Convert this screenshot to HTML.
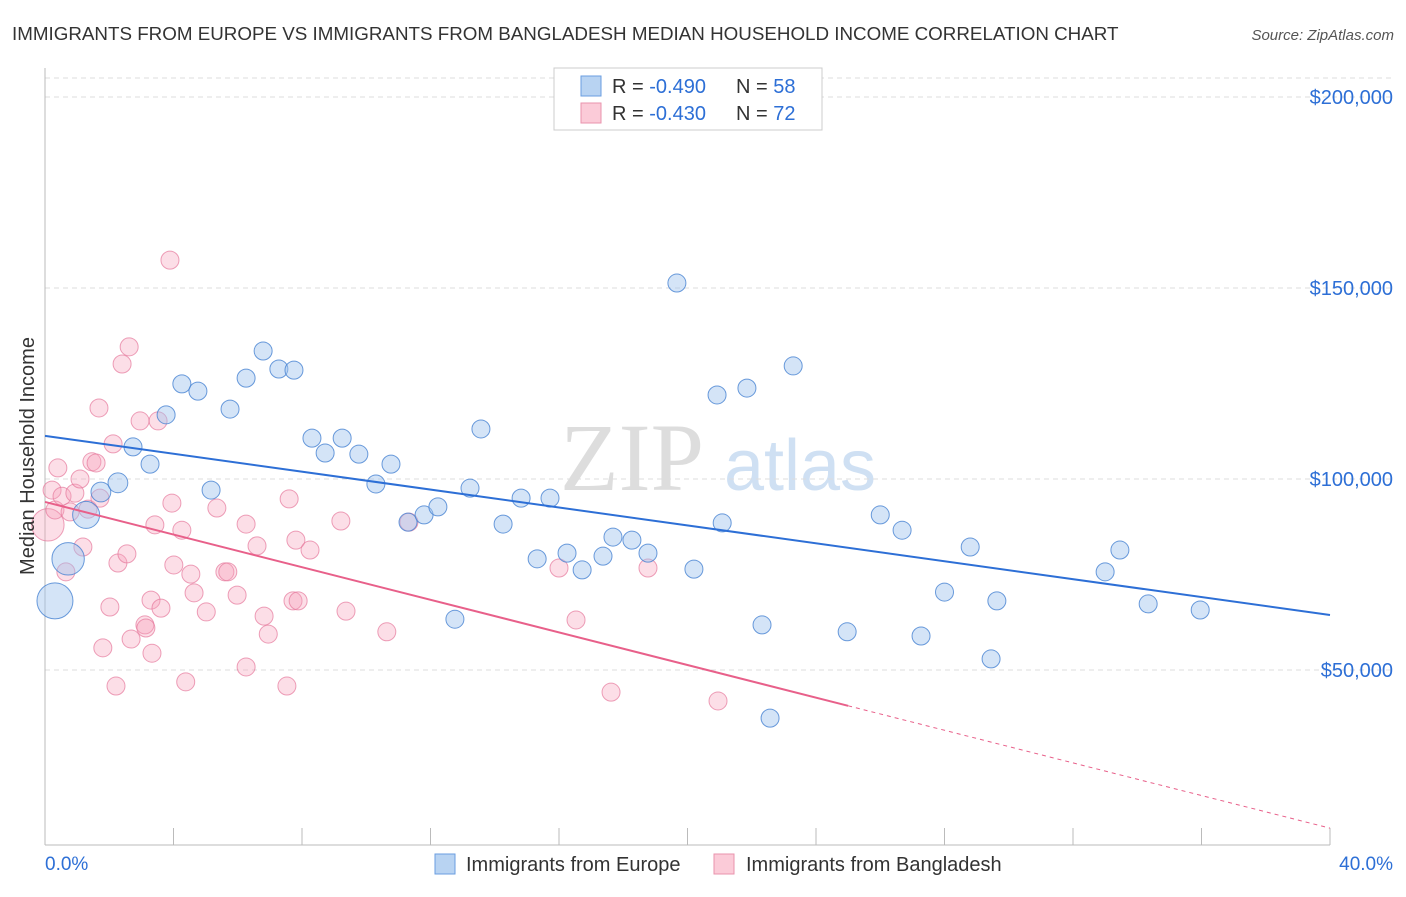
<!DOCTYPE html>
<html><head><meta charset="utf-8"><style>
body{margin:0;background:#fff;font-family:"Liberation Sans",sans-serif;}
</style></head><body>
<svg width="1406" height="892" xmlns="http://www.w3.org/2000/svg" style="font-family:'Liberation Sans',sans-serif">
<text x="12" y="40" font-size="18.8" fill="#333">IMMIGRANTS FROM EUROPE VS IMMIGRANTS FROM BANGLADESH MEDIAN HOUSEHOLD INCOME CORRELATION CHART</text>
<text x="1394" y="40" font-size="15" fill="#555" font-style="italic" text-anchor="end">Source: ZipAtlas.com</text>
<g>
<text x="632" y="490" font-size="96" fill="#ddd" font-family="Liberation Serif,serif" text-anchor="middle">ZIP</text>
<text x="800" y="490" font-size="72" fill="#cfe0f3" text-anchor="middle">atlas</text>
</g>
<g id="grid"></g>
<g id="axes"></g>
<g id="pts"></g>
<g id="lines"></g>
<text transform="translate(34,456) rotate(-90)" font-size="20" fill="#333" text-anchor="middle">Median Household Income</text>
<g>
<rect x="554" y="68" width="268" height="62" fill="#fff" stroke="#ccc"/>
<rect x="581" y="76" width="20" height="20" fill="#b8d3f2" stroke="#6a9ee0"/>
<text x="612" y="93" font-size="20" fill="#333">R = <tspan fill="#2d6fd6">-0.490</tspan></text>
<text x="736" y="93" font-size="20" fill="#333">N = <tspan fill="#2d6fd6">58</tspan></text>
<rect x="581" y="103" width="20" height="20" fill="#fbcbd8" stroke="#ea93ad"/>
<text x="612" y="120" font-size="20" fill="#333">R = <tspan fill="#2d6fd6">-0.430</tspan></text>
<text x="736" y="120" font-size="20" fill="#333">N = <tspan fill="#2d6fd6">72</tspan></text>
</g>
<g>
<rect x="435" y="854" width="20" height="20" fill="#b8d3f2" stroke="#6a9ee0"/>
<text x="466" y="871" font-size="20" fill="#333">Immigrants from Europe</text>
<rect x="714" y="854" width="20" height="20" fill="#fbcbd8" stroke="#ea93ad"/>
<text x="746" y="871" font-size="20" fill="#333">Immigrants from Bangladesh</text>
</g>
</svg>
<script>
const yTicks=[50000,100000,150000,200000];
const yTickLabels=["$50,000","$100,000","$150,000","$200,000"];
const xTickLabels=["0.0%","40.0%"];
const euX=[0.31,0.72,1.28,1.74,2.27,2.74,3.27,3.77,4.26,4.76,5.17,5.76,6.26,6.79,7.28,7.75,8.31,8.72,9.25,9.77,10.3,10.77,11.3,11.8,12.23,13.23,13.57,14.26,14.82,15.32,15.72,16.25,16.72,17.37,17.68,18.27,18.77,12.76,19.67,20.2,20.92,21.08,21.85,22.32,22.57,23.29,24.97,26.0,26.68,27.27,28.0,28.8,29.45,29.63,33.0,33.46,34.34,35.96];
const euY=[68.1,79.1,90.6,96.6,99.0,108.4,103.9,116.8,124.9,123.0,97.1,118.3,126.4,133.5,128.8,128.5,110.7,106.8,110.7,106.5,98.7,103.9,88.7,90.6,92.7,97.6,113.1,88.2,95.0,79.1,95.0,80.6,76.2,79.8,84.8,84.0,80.6,63.3,151.3,76.4,122.0,88.5,123.8,61.8,37.4,129.6,60.0,90.6,86.6,58.9,70.4,82.2,52.9,68.1,75.7,81.4,67.3,65.7];
const euS=[2,1.8,1.5,1.1,1.1,1,1,1,1,1,1,1,1,1,1,1,1,1,1,1,1,1,1,1,1,1,1,1,1,1,1,1,1,1,1,1,1,1,1,1,1,1,1,1,1,1,1,1,1,1,1,1,1,1,1,1,1,1];
const bdX=[0.09,0.22,0.31,0.4,0.53,0.65,0.78,0.93,1.09,1.18,1.34,1.46,1.59,1.68,1.71,1.8,2.02,2.12,2.21,2.27,2.4,2.55,2.62,2.68,2.96,3.11,3.14,3.3,3.33,3.42,3.52,3.61,3.89,3.95,4.01,4.26,4.38,4.54,4.64,5.02,5.35,5.6,5.69,5.98,6.26,6.26,6.6,6.82,6.95,7.53,7.6,7.72,7.81,7.88,8.25,9.21,9.37,10.64,11.33,16.0,16.53,17.62,18.77,20.95];
const bdY=[88.0,97.1,91.9,102.9,95.5,75.7,91.4,96.3,100.0,82.2,92.1,104.5,104.2,118.6,95.0,55.8,66.5,109.2,45.8,78.0,130.1,80.4,134.6,58.1,115.2,61.8,61.0,68.3,54.4,88.0,115.2,66.2,157.3,93.7,77.5,86.6,46.9,75.1,70.2,65.2,92.4,75.7,75.7,69.6,88.2,50.8,82.5,64.1,59.4,45.8,94.8,68.1,84.0,68.1,81.4,89.0,65.4,60.0,88.7,76.7,63.1,44.2,76.7,41.9];
const bdS=[1.8,1,1,1,1,1,1,1,1,1,1,1,1,1,1,1,1,1,1,1,1,1,1,1,1,1,1,1,1,1,1,1,1,1,1,1,1,1,1,1,1,1,1,1,1,1,1,1,1,1,1,1,1,1,1,1,1,1,1,1,1,1,1,1];
const euLine=[111.3,64.4];
const bdLine=[94.0,8.6];
const bdSolidEnd=25;
const NS="http://www.w3.org/2000/svg";
const X=p=>45+p*1285/40;
const Y=k=>479-(k-100)*191/50;
function mk(t,a,parent){const e=document.createElementNS(NS,t);for(const k in a)e.setAttribute(k,a[k]);document.getElementById(parent).appendChild(e);return e;}
yTicks.forEach((v,i)=>{
 const g=mk('line',{x1:45,x2:1393,y1:Y(v/1000),y2:Y(v/1000),stroke:'#ddd','stroke-dasharray':'5,4'},'grid');
 
 
 const t=mk('text',{x:1393,y:Y(v/1000)+7,'font-size':20,fill:'#2d6fd6','text-anchor':'end'},'axes');
 t.textContent=yTickLabels[i];
 
 
});
mk('line',{x1:45,x2:1393,y1:78,y2:78,stroke:'#ddd','stroke-dasharray':'5,4'},'grid');
const ya=mk('line',{x1:45,x2:45,y1:68,y2:845,stroke:'#bbb'},'axes');


const xa=mk('line',{x1:45,x2:1330,y1:845,y2:845,stroke:'#bbb'},'axes');


for(let p=0;p<=40;p+=4){const l=mk('line',{x1:X(p),x2:X(p),y1:828,y2:845,stroke:'#bbb'},'axes');
 
 }
[[0,45,'start'],[40,1393,'end']].forEach((d,i)=>{const t=mk('text',{x:d[1],y:870,'font-size':19,fill:'#2d6fd6','text-anchor':d[2]},'axes');t.textContent=xTickLabels[i];
 
 });
bdX.forEach((p,i)=>{const c=mk('circle',{cx:X(p),cy:Y(bdY[i]),r:9*bdS[i],fill:'rgba(246,160,185,0.35)',stroke:'rgba(230,120,155,0.7)','stroke-width':1},'pts');
 
 });
euX.forEach((p,i)=>{const c=mk('circle',{cx:X(p),cy:Y(euY[i]),r:9*euS[i],fill:'rgba(160,195,238,0.45)',stroke:'rgba(70,130,210,0.8)','stroke-width':1},'pts');
 
 });
const bl=mk('line',{x1:X(0),y1:Y(euLine[0]),x2:X(40),y2:Y(euLine[1]),stroke:'#2d6fd6','stroke-width':2},'lines');


const pe=bdLine[0]+(bdLine[1]-bdLine[0])*bdSolidEnd/40;
const pl=mk('line',{x1:X(0),y1:Y(bdLine[0]),x2:X(bdSolidEnd),y2:Y(pe),stroke:'#e8608a','stroke-width':2},'lines');


const pd=mk('line',{x1:X(bdSolidEnd),y1:Y(pe),x2:X(40),y2:Y(bdLine[1]),stroke:'#e8608a','stroke-width':1,'stroke-dasharray':'4,4'},'lines');


</script>
</body></html>
